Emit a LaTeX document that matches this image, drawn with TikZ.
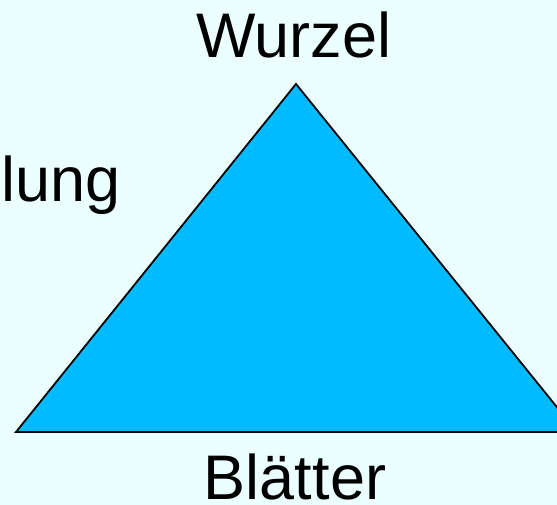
\documentclass[tikz,border=0pt]{standalone}
\usepackage{fontspec}
\setmainfont{Liberation Sans}
\definecolor{bg}{HTML}{EBFFFF}
\definecolor{tri}{HTML}{00BBFF}
\begin{document}
\begin{tikzpicture}[x=1pt,y=-1pt,
  lbl/.style={anchor=base,inner sep=0pt,font=\fontsize{63}{63}\selectfont,text=black}]
\useasboundingbox (0,0) rectangle (557,505);
\clip (0,0) rectangle (557,505);
\fill[bg] (0,0) rectangle (557,505);
\coordinate (apex) at (296,84);
\coordinate (bl) at (16,432);
\coordinate (br) at (577,432);
\filldraw[fill=tri,draw=black,line width=1.8pt,line join=miter] (apex) -- (br) -- (bl) -- cycle;
\node[lbl] (wurzel) at (294,58) {Wurzel};
\node[lbl,text depth=0pt] (blaetter) at (295,499) {Blätter};
\node[lbl,anchor=base west] (lung) at (1,202) {lung};
\end{tikzpicture}
\end{document}
